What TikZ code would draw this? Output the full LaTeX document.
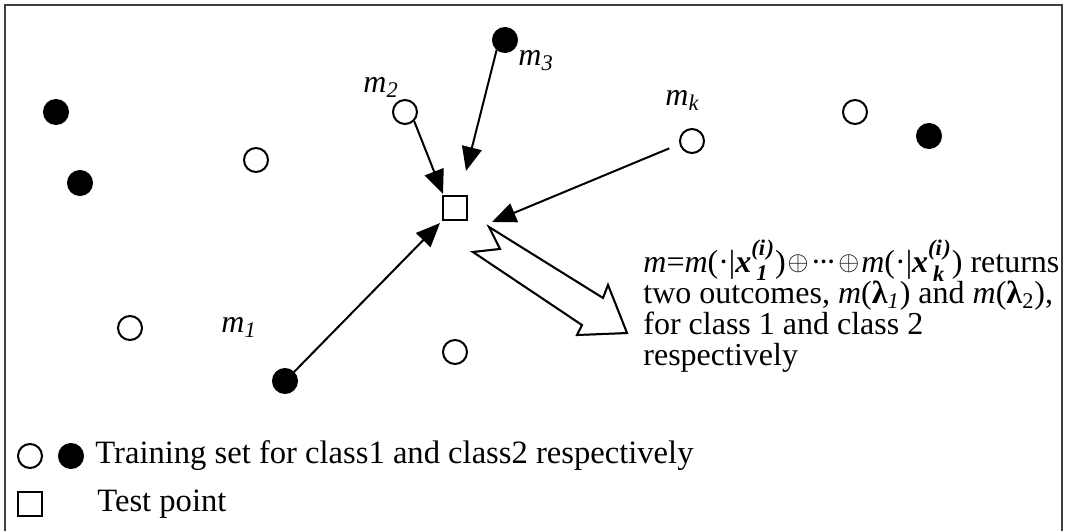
\documentclass[tikz,border=0pt]{standalone}
\usepackage{fontspec}
\usepackage{amsmath}
\usepackage{graphicx}
\setmainfont{Liberation Serif}
\usetikzlibrary{arrows.meta}
\newcommand{\bix}[1]{\text{\bfseries\itshape #1}}
\newcommand{\itx}[1]{\text{\itshape #1}}
\newcommand{\opl}{$\mkern1mu\vcenter{\hbox{\scalebox{0.78}{$\oplus$}}}\mkern1mu$}
\newcommand{\xsup}[1]{\smash{$\bix{x}^{\bix{(i\kern0.8pt)}}_{\mkern4mu\bix{#1}}$}}
\newcommand{\pdot}{\textperiodcentered}
\begin{document}
\begin{tikzpicture}[x=0.5pt,y=-0.5pt,
  txt/.style={font=\fontsize{16}{15.5}\selectfont, inner sep=0pt},
  legtxt/.style={font=\fontsize{16.3}{16}\selectfont, inner sep=0pt},
  opendot/.style={circle, draw=black, fill=white, line width=1pt, minimum size=12pt, inner sep=0pt},
  filldot/.style={circle, draw=black, fill=black, line width=1pt, minimum size=12pt, inner sep=0pt},
  testsq/.style={rectangle, draw=black, line width=1pt, minimum size=12pt, inner sep=0pt},
  conn/.style={line width=1pt, -{Triangle[length=12pt, width=10pt]}},
  frameline/.style={line width=1pt, draw=black!75},
]
\useasboundingbox (0,0) rectangle (1069,530);
\draw[frameline] (5,540) -- (5,5) -- (1062,5) -- (1062,540);

% training points
\node[filldot] (f1) at (56,112) {};
\node[filldot] (f2) at (80,183) {};
\node[opendot] (o1) at (256,160) {};
\node[opendot] (o2) at (130,328) {};
\node[filldot] (m1) at (285,381) {};
\node[opendot] (o3) at (455,352) {};
\node[opendot] (m2) at (405,112) {};
\node[filldot] (m3) at (505,40) {};
\node[opendot] (mk) at (692,141) {};
\node[opendot] (o4) at (855,112) {};
\node[filldot] (f3) at (929,136) {};

% test point
\node[testsq] (test) at (455,208) {};

% arrow tips
\coordinate (t1) at (440,223);
\coordinate (t2) at (443,194);
\coordinate (t3) at (466,171);
\coordinate (tk) at (492,222);

\draw[conn] (m1.45) -- (t1);
\draw[conn] (m2.-45) -- (t2);
\draw[conn] (m3.-130) -- (t3);
\draw[conn, shorten <=5.5pt] (mk.194) -- (tk);

% labels
\node[txt, anchor=base west] (l1) at (221,332) {$\itx{m}_{\itx{1}}$};
\node[txt, anchor=base west] (l2) at (363,92) {$\itx{m}_{\itx{2}}$};
\node[txt, anchor=base west] (l3) at (518,65) {$\itx{m}_{\itx{3}}$};
\node[txt, anchor=base west] (lk) at (665,105) {$\itx{m}_{\itx{k}}$};

% block arrow
\coordinate (b1) at (489,227);
\coordinate (b2) at (500,249);
\coordinate (b3) at (473,252);
\coordinate (b4) at (582,325);
\coordinate (b5) at (577,335);
\coordinate (b6) at (627,333);
\coordinate (b7) at (608,285);
\coordinate (b8) at (603,298);
\draw[line width=1pt, draw=black!45, shift={(3,3)}]
  (b1) -- (b2) -- (b3) -- (b4) -- (b5) -- (b6) -- (b7) -- (b8) -- cycle;
\filldraw[line width=1pt, draw=black, fill=white]
  (b1) -- (b2) -- (b3) -- (b4) -- (b5) -- (b6) -- (b7) -- (b8) -- cycle;

% explanation text
\node[txt, anchor=base west, align=left] (expl) at (643,365)
  {\textit{m}=\textit{m}(\pdot|\xsup{1})\opl\pdot\kern-1.5pt\pdot\kern-1.5pt\pdot\opl\textit{m}(\pdot|\xsup{k}) returns\\
   two outcomes, \textit{m}(\textbf{λ}$_{\itx{1}}$) and \textit{m}(\textbf{λ}$_{\text{2}}$),\\
   for class 1 and class 2\\
   respectively};

% legend
\node[opendot] (lg1) at (30,456) {};
\node[filldot] (lg2) at (71,456) {};
\node[legtxt, anchor=base west] (lgt1) at (95,463) {Training set for class1 and class2 respectively};
\node[testsq] (lg3) at (30,504) {};
\node[legtxt, anchor=base west] (lgt2) at (97,511) {Test point};
\end{tikzpicture}
\end{document}
